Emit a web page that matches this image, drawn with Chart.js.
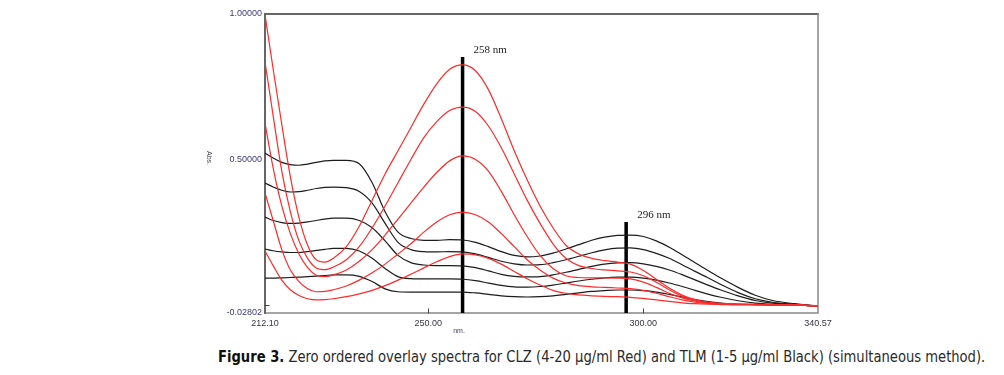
<!DOCTYPE html>
<html>
<head>
<meta charset="utf-8">
<script src="https://cdn.jsdelivr.net/npm/chart.js@4.4.1/dist/chart.umd.min.js"></script>
<style>
    html, body { margin: 0; padding: 0; background: #fff; }
    #wrap { position: relative; width: 1004px; height: 375px; overflow: hidden; }
    canvas { position: absolute; left: 0; top: 0; }
    #caption {
        position: absolute; left: 218px; top: 347px; white-space: nowrap;
        font-family: "DejaVu Sans Condensed", "DejaVu Sans", sans-serif; font-stretch: condensed;
        font-size: 16px; color: #2a2a2a; transform-origin: 0 0;
    }
    #caption b { color: #111; }
</style>
</head>
<body>
<div id="wrap">
    <canvas id="chart" width="1004" height="340"></canvas>
    <div id="caption"><b>Figure 3.</b> Zero ordered overlay spectra for CLZ (4-20 µg/ml Red) and TLM (1-5 µg/ml Black) (simultaneous method).</div>
</div>
<script>
// wavelengths (nm) shared by all spectra
const wavelengths = [212.1, 214, 216, 218, 220, 222, 224, 226, 228, 231, 234, 237, 240, 243, 246, 249, 252, 255, 258,
    261, 264, 267, 270, 273, 276, 279, 282, 285, 288, 291, 294, 297, 300, 303, 306, 309, 312, 315, 318, 322, 326, 330, 335, 340.57]

// CLZ (red) 4..20 ug/ml
const clz20 = [0.998, 0.81, 0.62, 0.44, 0.30, 0.205, 0.155, 0.147, 0.16, 0.20, 0.27, 0.36, 0.45, 0.53, 0.61, 0.69, 0.76, 0.81, 0.825,
    0.805, 0.74, 0.64, 0.53, 0.43, 0.34, 0.265, 0.205, 0.175, 0.16, 0.152, 0.147, 0.14, 0.118, 0.088, 0.058, 0.034, 0.018, 0.009, 0.005, 0.003, 0.002, 0.001, 0.0, -0.004]
const clz16 = [0.835, 0.65, 0.46, 0.32, 0.22, 0.16, 0.127, 0.121, 0.13, 0.155, 0.20, 0.265, 0.34, 0.42, 0.50, 0.575, 0.63, 0.668, 0.68,
    0.665, 0.615, 0.54, 0.45, 0.36, 0.28, 0.21, 0.16, 0.135, 0.125, 0.12, 0.117, 0.113, 0.10, 0.078, 0.052, 0.03, 0.016, 0.008, 0.004, 0.002, 0.001, 0.0, 0.0, -0.004]
const clz12 = [0.625, 0.47, 0.34, 0.245, 0.175, 0.128, 0.102, 0.097, 0.103, 0.12, 0.15, 0.19, 0.24, 0.295, 0.35, 0.405, 0.455, 0.495, 0.512,
    0.50, 0.46, 0.39, 0.31, 0.235, 0.17, 0.125, 0.10, 0.094, 0.093, 0.093, 0.092, 0.089, 0.078, 0.06, 0.04, 0.024, 0.013, 0.007, 0.004, 0.002, 0.001, 0.0, 0.0, -0.004]
const clz8 = [0.385, 0.29, 0.19, 0.12, 0.08, 0.055, 0.045, 0.046, 0.052, 0.065, 0.085, 0.11, 0.14, 0.175, 0.21, 0.25, 0.285, 0.31, 0.319,
    0.31, 0.285, 0.245, 0.20, 0.155, 0.12, 0.092, 0.075, 0.066, 0.062, 0.06, 0.058, 0.056, 0.05, 0.04, 0.028, 0.017, 0.009, 0.005, 0.003, 0.002, 0.001, 0.0, 0.0, -0.004]
const clz4 = [0.185, 0.135, 0.085, 0.052, 0.032, 0.021, 0.017, 0.018, 0.021, 0.028, 0.038, 0.05, 0.066, 0.085, 0.105, 0.127, 0.148, 0.166, 0.175,
    0.172, 0.16, 0.14, 0.115, 0.09, 0.068, 0.05, 0.04, 0.034, 0.031, 0.029, 0.028, 0.026, 0.022, 0.017, 0.012, 0.007, 0.004, 0.002, 0.001, 0.0, 0.0, 0.0, 0.0, -0.004]

// TLM (black) 1..5 ug/ml
const tlm5 = [0.522, 0.505, 0.49, 0.482, 0.48, 0.484, 0.49, 0.495, 0.497, 0.497, 0.485, 0.42, 0.32, 0.25, 0.228, 0.222, 0.222, 0.224, 0.223,
    0.215, 0.20, 0.183, 0.17, 0.165, 0.168, 0.178, 0.192, 0.207, 0.222, 0.233, 0.239, 0.24, 0.235, 0.22, 0.198, 0.172, 0.145, 0.118, 0.092, 0.06, 0.033, 0.015, 0.004, -0.004]
const tlm4 = [0.419, 0.405, 0.394, 0.388, 0.389, 0.394, 0.40, 0.404, 0.405, 0.403, 0.39, 0.35, 0.28, 0.215, 0.19, 0.183, 0.182, 0.183, 0.182,
    0.175, 0.163, 0.15, 0.141, 0.137, 0.138, 0.145, 0.155, 0.167, 0.179, 0.189, 0.195, 0.196, 0.19, 0.177, 0.16, 0.138, 0.115, 0.093, 0.07, 0.042, 0.021, 0.009, 0.002, -0.004]
const tlm3 = [0.302, 0.29, 0.283, 0.28, 0.281, 0.285, 0.29, 0.295, 0.298, 0.298, 0.29, 0.265, 0.22, 0.17, 0.145, 0.137, 0.135, 0.135, 0.134,
    0.128, 0.117, 0.105, 0.098, 0.096, 0.097, 0.103, 0.112, 0.122, 0.132, 0.14, 0.144, 0.145, 0.141, 0.132, 0.12, 0.104, 0.086, 0.068, 0.051, 0.031, 0.015, 0.006, 0.001, -0.004]
const tlm2 = [0.192, 0.186, 0.182, 0.18, 0.18, 0.183, 0.187, 0.191, 0.194, 0.194, 0.185, 0.16, 0.125, 0.097, 0.09, 0.089, 0.089, 0.089, 0.088,
    0.083, 0.075, 0.067, 0.062, 0.061, 0.063, 0.068, 0.075, 0.082, 0.088, 0.093, 0.095, 0.095, 0.092, 0.085, 0.075, 0.063, 0.05, 0.037, 0.026, 0.014, 0.006, 0.002, 0.0, -0.004]
const tlm1 = [0.092, 0.092, 0.093, 0.094, 0.095, 0.097, 0.099, 0.101, 0.103, 0.103, 0.098, 0.08, 0.055, 0.045, 0.044, 0.044, 0.044, 0.044, 0.044,
    0.041, 0.036, 0.031, 0.028, 0.027, 0.028, 0.031, 0.036, 0.041, 0.046, 0.049, 0.051, 0.051, 0.049, 0.044, 0.036, 0.027, 0.018, 0.011, 0.006, 0.002, 0.001, 0.0, 0.0, -0.004]

// marker lines at the two analytical wavelengths
const markerNm = [258, 296]
const markerTop = [0.852, 0.285]
const markerText = ['258 nm', '296 nm']

const xTicks = [212.1, 250, 300, 340.57]
const yTicks = [-0.02802, 0.5, 1.0]
const xMin = 212.1, xMax = 340.57, yMin = -0.02802, yMax = 1.0

const toPoints = values => wavelengths.map((w, i) => ({ x: w, y: values[i] }))

const spectrum = (values, color) => ({
    data: toPoints(values),
    borderColor: color,
    borderWidth: 1.2,
    pointRadius: 0,
    cubicInterpolationMode: 'monotone',
    fill: false
})

const datasets = [
    ...[clz4, clz8, clz12, clz16, clz20].map(v => spectrum(v, '#ff2a2a')),
    ...[tlm1, tlm2, tlm3, tlm4, tlm5].map(v => spectrum(v, '#1c1c1c'))
]
markerNm.forEach((nm, i) => {
    datasets.push({
        data: [{ x: nm, y: markerTop[i] }, { x: nm, y: yMin }],
        borderColor: '#000',
        borderWidth: 3.5,
        pointRadius: 0,
        tension: 0,
        clip: 6
    })
})

const framePlugin = {
    id: 'frame',
    beforeDatasetsDraw(chart) {
        const { ctx, chartArea: a, scales } = chart
        ctx.save()
        ctx.lineCap = 'square'
        ctx.strokeStyle = '#333'
        ctx.lineWidth = 1.5
        ctx.beginPath(); ctx.moveTo(a.left, a.top); ctx.lineTo(a.right, a.top); ctx.stroke()
        ctx.strokeStyle = '#888'
        ctx.beginPath(); ctx.moveTo(a.right, a.top); ctx.lineTo(a.right, a.bottom); ctx.lineTo(a.left, a.bottom); ctx.stroke()
        ctx.strokeStyle = '#666'
        ctx.lineWidth = 2
        ctx.beginPath(); ctx.moveTo(a.left, a.top); ctx.lineTo(a.left, a.bottom); ctx.stroke()
        // small inner tick marks
        ctx.lineWidth = 1
        ctx.strokeStyle = '#444'
        ;[250, 300].forEach(v => {
            const x = Math.round(scales.x.getPixelForValue(v)) + 0.5
            ctx.beginPath(); ctx.moveTo(x, a.bottom); ctx.lineTo(x, a.bottom - 4); ctx.stroke()
        })
        const y0 = Math.round(scales.y.getPixelForValue(0)) + 0.5
        ctx.beginPath(); ctx.moveTo(a.left, y0); ctx.lineTo(a.left + 4, y0); ctx.stroke()
        ctx.restore()
    },
    afterDraw(chart) {
        const { ctx, scales } = chart
        ctx.save()
        ctx.fillStyle = '#222'
        ctx.font = '11px "Liberation Serif", "DejaVu Serif", serif'
        ctx.textBaseline = 'alphabetic'
        markerNm.forEach((nm, i) => {
            const x = scales.x.getPixelForValue(nm)
            const y = scales.y.getPixelForValue(markerTop[i])
            ctx.fillText(markerText[i], x + 11, y - 4)
        })
        ctx.fillStyle = '#445'
        ctx.font = '7px "Liberation Sans", Arial, sans-serif'
        ctx.textAlign = 'center'
        ctx.fillText('nm.', 459, 333)
        ctx.translate(207, 158)
        ctx.rotate(Math.PI / 2)
        ctx.fillText('Abs.', 0, 0)
        ctx.restore()
    }
}

const tickFont = { family: '"Liberation Sans", Arial, sans-serif', size: 9 }

new Chart(document.getElementById('chart'), {
    type: 'line',
    data: { datasets },
    options: {
        responsive: false,
        animation: false,
        layout: { padding: { top: 14, right: 186, left: 0, bottom: 0 } },
        plugins: { legend: { display: false }, tooltip: { enabled: false } },
        scales: {
            x: {
                type: 'linear', min: xMin, max: xMax,
                afterBuildTicks: scale => { scale.ticks = xTicks.map(value => ({ value })) },
                afterFit: scale => { scale.height = 27 },
                grid: { display: false, drawTicks: false },
                border: { display: false },
                ticks: { padding: 5, font: tickFont, color: '#334', maxRotation: 0, autoSkip: false, callback: v => Number(v).toFixed(2) }
            },
            y: {
                type: 'linear', min: yMin, max: yMax,
                afterBuildTicks: scale => { scale.ticks = yTicks.map(value => ({ value })) },
                afterFit: scale => { scale.width = 265 },
                grid: { display: false, drawTicks: false },
                border: { display: false },
                ticks: { padding: 3, font: tickFont, color: '#3a3a78', autoSkip: false, callback: v => Number(v).toFixed(5) }
            }
        }
    },
    plugins: [framePlugin]
})

// squeeze caption to the reference width
const caption = document.getElementById('caption')
const targetWidth = 767
caption.style.transform = `scaleX(${targetWidth / caption.scrollWidth})`
</script>
</body>
</html>
